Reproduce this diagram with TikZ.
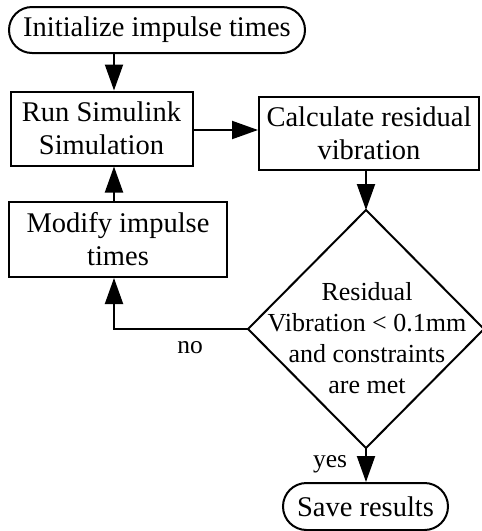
\documentclass[tikz,border=0pt]{standalone}
\usepackage{fontspec}
\setmainfont{Liberation Serif}
\usetikzlibrary{shapes.geometric,shapes.misc,arrows.meta,calc}
\begin{document}
\begin{tikzpicture}[x=1pt,y=-1pt,
  every node/.style={font=\fontsize{28.5}{33}\selectfont, align=center, inner sep=0pt, line width=2pt},
  termbox/.style={draw, rounded rectangle},
  procbox/.style={draw, rectangle},
  decbox/.style={draw, diamond, inner sep=0pt, outer sep=0pt},
  lbl/.style={font=\fontsize{25.5}{30}\selectfont, anchor=base},
  conn/.style={line width=2pt, -{Triangle[length=26pt,width=18pt]}},
  plain/.style={line width=2pt}]
\useasboundingbox (0,0) rectangle (482,531);
\coordinate (ax) at (114,0);
\coordinate (ay) at (0,130);
\node[termbox, minimum width=296pt, minimum height=46pt] (init) at (157,30) {Initialize impulse times};
\node[procbox, minimum width=182pt, minimum height=74pt] (run) at (101.5,128.5) {Run Simulink\\Simulation};
\node[procbox, minimum width=220pt, minimum height=73pt] (calc) at (369,133.5) {Calculate residual\\vibration};
\node[procbox, minimum width=218pt, minimum height=75pt] (mod) at (118,239.5) {Modify impulse\\times};
\node[decbox, minimum width=236pt, minimum height=238pt,
  label={[font=\fontsize{26}{31}\selectfont, align=center, yshift=-9pt, xshift=1pt]center:Residual\\Vibration < 0.1mm\\and constraints\\are met}] (dec) at (366,329) {};
\node[termbox, minimum width=165pt, minimum height=47pt] (save) at (365.5,506.5) {Save results};
\node[lbl] (no) at (190,353) {no};
\node[lbl] (yes) at (330,467) {yes};
\draw[conn] (init.south -| ax) -- (run.north -| ax);
\draw[conn] (run.east |- ay) -- (calc.west |- ay);
\draw[conn] (calc.south -| dec.north) -- (dec.north);
\draw[conn] (mod.north -| ax) -- (run.south -| ax);
\draw[conn] (dec.west) -| (mod.south -| ax);
\draw[conn] (dec.south) -- (save.north -| dec.south);
\end{tikzpicture}
\end{document}
